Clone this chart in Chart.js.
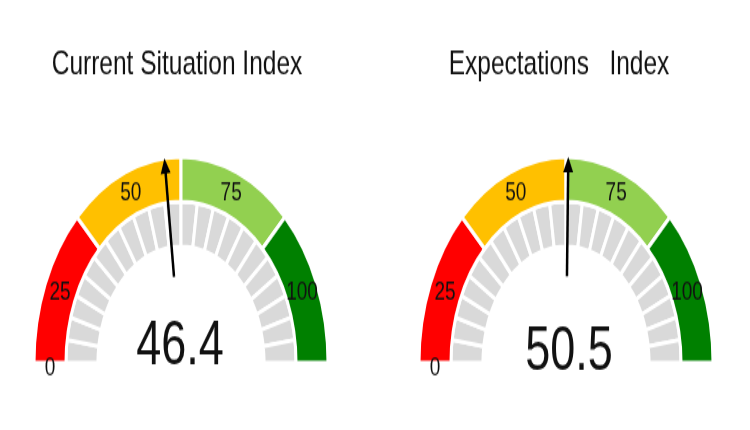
<!DOCTYPE html>
<html>
<head>
<meta charset="utf-8">
<script src="https://cdn.jsdelivr.net/npm/chart.js@4.4.0/dist/chart.umd.min.js"></script>
<style>
  html, body { margin: 0; padding: 0; background: #fff; }
  #wrap { width: 750px; height: 430px; display: flex; }
  canvas { display: block; }
</style>
</head>
<body>
<div id="wrap">
  <canvas id="gauge1" width="375" height="307" style="width:375px;height:430px"></canvas>
  <canvas id="gauge2" width="375" height="307" style="width:375px;height:430px"></canvas>
</div>
<script>
// Indicadores
const titles = ["Current Situation Index", "Expectations   Index"];
const values = [46.4, 50.5];

// Bandas del medidor
const bandLimits = [0, 25, 50, 75, 100];
const bandLabels = ["0", "25", "50", "75", "100"];
const bandColors = ["#ff0000", "#ffc000", "#92d050", "#008000"];

// Marcas grises interiores
const tickCount = 22;

const bandSizes = bandLimits.slice(1).map((v, i) => v - bandLimits[i]);
const tickSizes = new Array(tickCount).fill((bandLimits[4] - bandLimits[0]) / tickCount);

// Dibuja titulo, etiquetas, aguja y valor
const gaugePlugin = {
  id: "gauge",
  afterDatasetsDraw(chart, args, opts) {
    const arcs = chart.getDatasetMeta(0).data;
    const first = arcs[0], last = arcs[arcs.length - 1];
    const cx = first.x, cy = first.y;
    const rOut = first.outerRadius, rIn = first.innerRadius;
    const rMid = (rOut + rIn) / 2;
    const a0 = first.startAngle, a1 = last.endAngle;
    const min = bandLimits[0], max = bandLimits[bandLimits.length - 1];
    const ctx = chart.ctx;
    ctx.save();
    ctx.textAlign = "center";
    ctx.textBaseline = "middle";

    // titulo
    ctx.fillStyle = "#111";
    ctx.font = "24.5px 'Liberation Sans', Arial, sans-serif";
    ctx.fillText(opts.title, cx + opts.titleDx, 46.5);

    ctx.font = "19px 'Liberation Sans', Arial, sans-serif";
    ctx.fillText(bandLabels[0], cx + rMid * Math.cos(a0), cy + rMid * Math.sin(a0) + 4);
    arcs.forEach((arc, i) => {
      const a = (arc.startAngle + arc.endAngle) / 2;
      ctx.fillText(bandLabels[i + 1], cx + rMid * Math.cos(a), cy + rMid * Math.sin(a));
    });

    // aguja
    const v = opts.value;
    const ang = a0 + (v - min) / (max - min) * (a1 - a0);
    const c = Math.cos(ang), s = Math.sin(ang);
    const rBase = rOut * 0.42, rTip = rOut, head = 11, hw = 5;
    ctx.strokeStyle = "#000";
    ctx.lineWidth = 2.5;
    ctx.beginPath();
    ctx.moveTo(cx + rBase * c, cy + rBase * s);
    ctx.lineTo(cx + (rTip - head + 1) * c, cy + (rTip - head + 1) * s);
    ctx.stroke();
    const bx = cx + (rTip - head) * c, by = cy + (rTip - head) * s;
    ctx.fillStyle = "#000";
    ctx.beginPath();
    ctx.moveTo(cx + rTip * c, cy + rTip * s);
    ctx.lineTo(bx - hw * s, by + hw * c);
    ctx.lineTo(bx + hw * s, by - hw * c);
    ctx.closePath();
    ctx.fill();

    // valor
    ctx.fillStyle = "#111";
    ctx.font = "45px 'Liberation Sans', Arial, sans-serif";
    ctx.textBaseline = "alphabetic";
    ctx.fillText(v.toFixed(1), cx + opts.valueDx, cy + opts.valueDy);
    ctx.restore();
  }
};

function makeGauge(id, title, value, padLeft, padRight, titleDx, valueDx, valueDy) {
  return new Chart(document.getElementById(id), {
    type: "doughnut",
    data: {
      labels: bandLabels.slice(1),
      datasets: [{
        data: bandSizes,
        backgroundColor: bandColors,
        borderColor: "#fff",
        borderWidth: 3
      }, {
        data: tickSizes,
        backgroundColor: "#d9d9d9",
        borderColor: "#fff",
        borderWidth: 3
      }]
    },
    options: {
      responsive: false,
      animation: false,
      events: [],
      rotation: -90,
      circumference: 180,
      radius: 147,
      cutout: "56.5%",
      layout: { padding: { left: padLeft, right: padRight, top: 112, bottom: 48 } },
      plugins: {
        legend: { display: false },
        tooltip: { enabled: false },
        title: { display: false },
        gauge: { title: title, value: value, titleDx: titleDx, valueDx: valueDx, valueDy: valueDy }
      }
    },
    plugins: [gaugePlugin]
  });
}

makeGauge("gauge1", titles[0], values[0], 34, 47, -4, -1, 1);
makeGauge("gauge2", titles[1], values[1], 44, 37, -7, 3, 5);
</script>
</body>
</html>
